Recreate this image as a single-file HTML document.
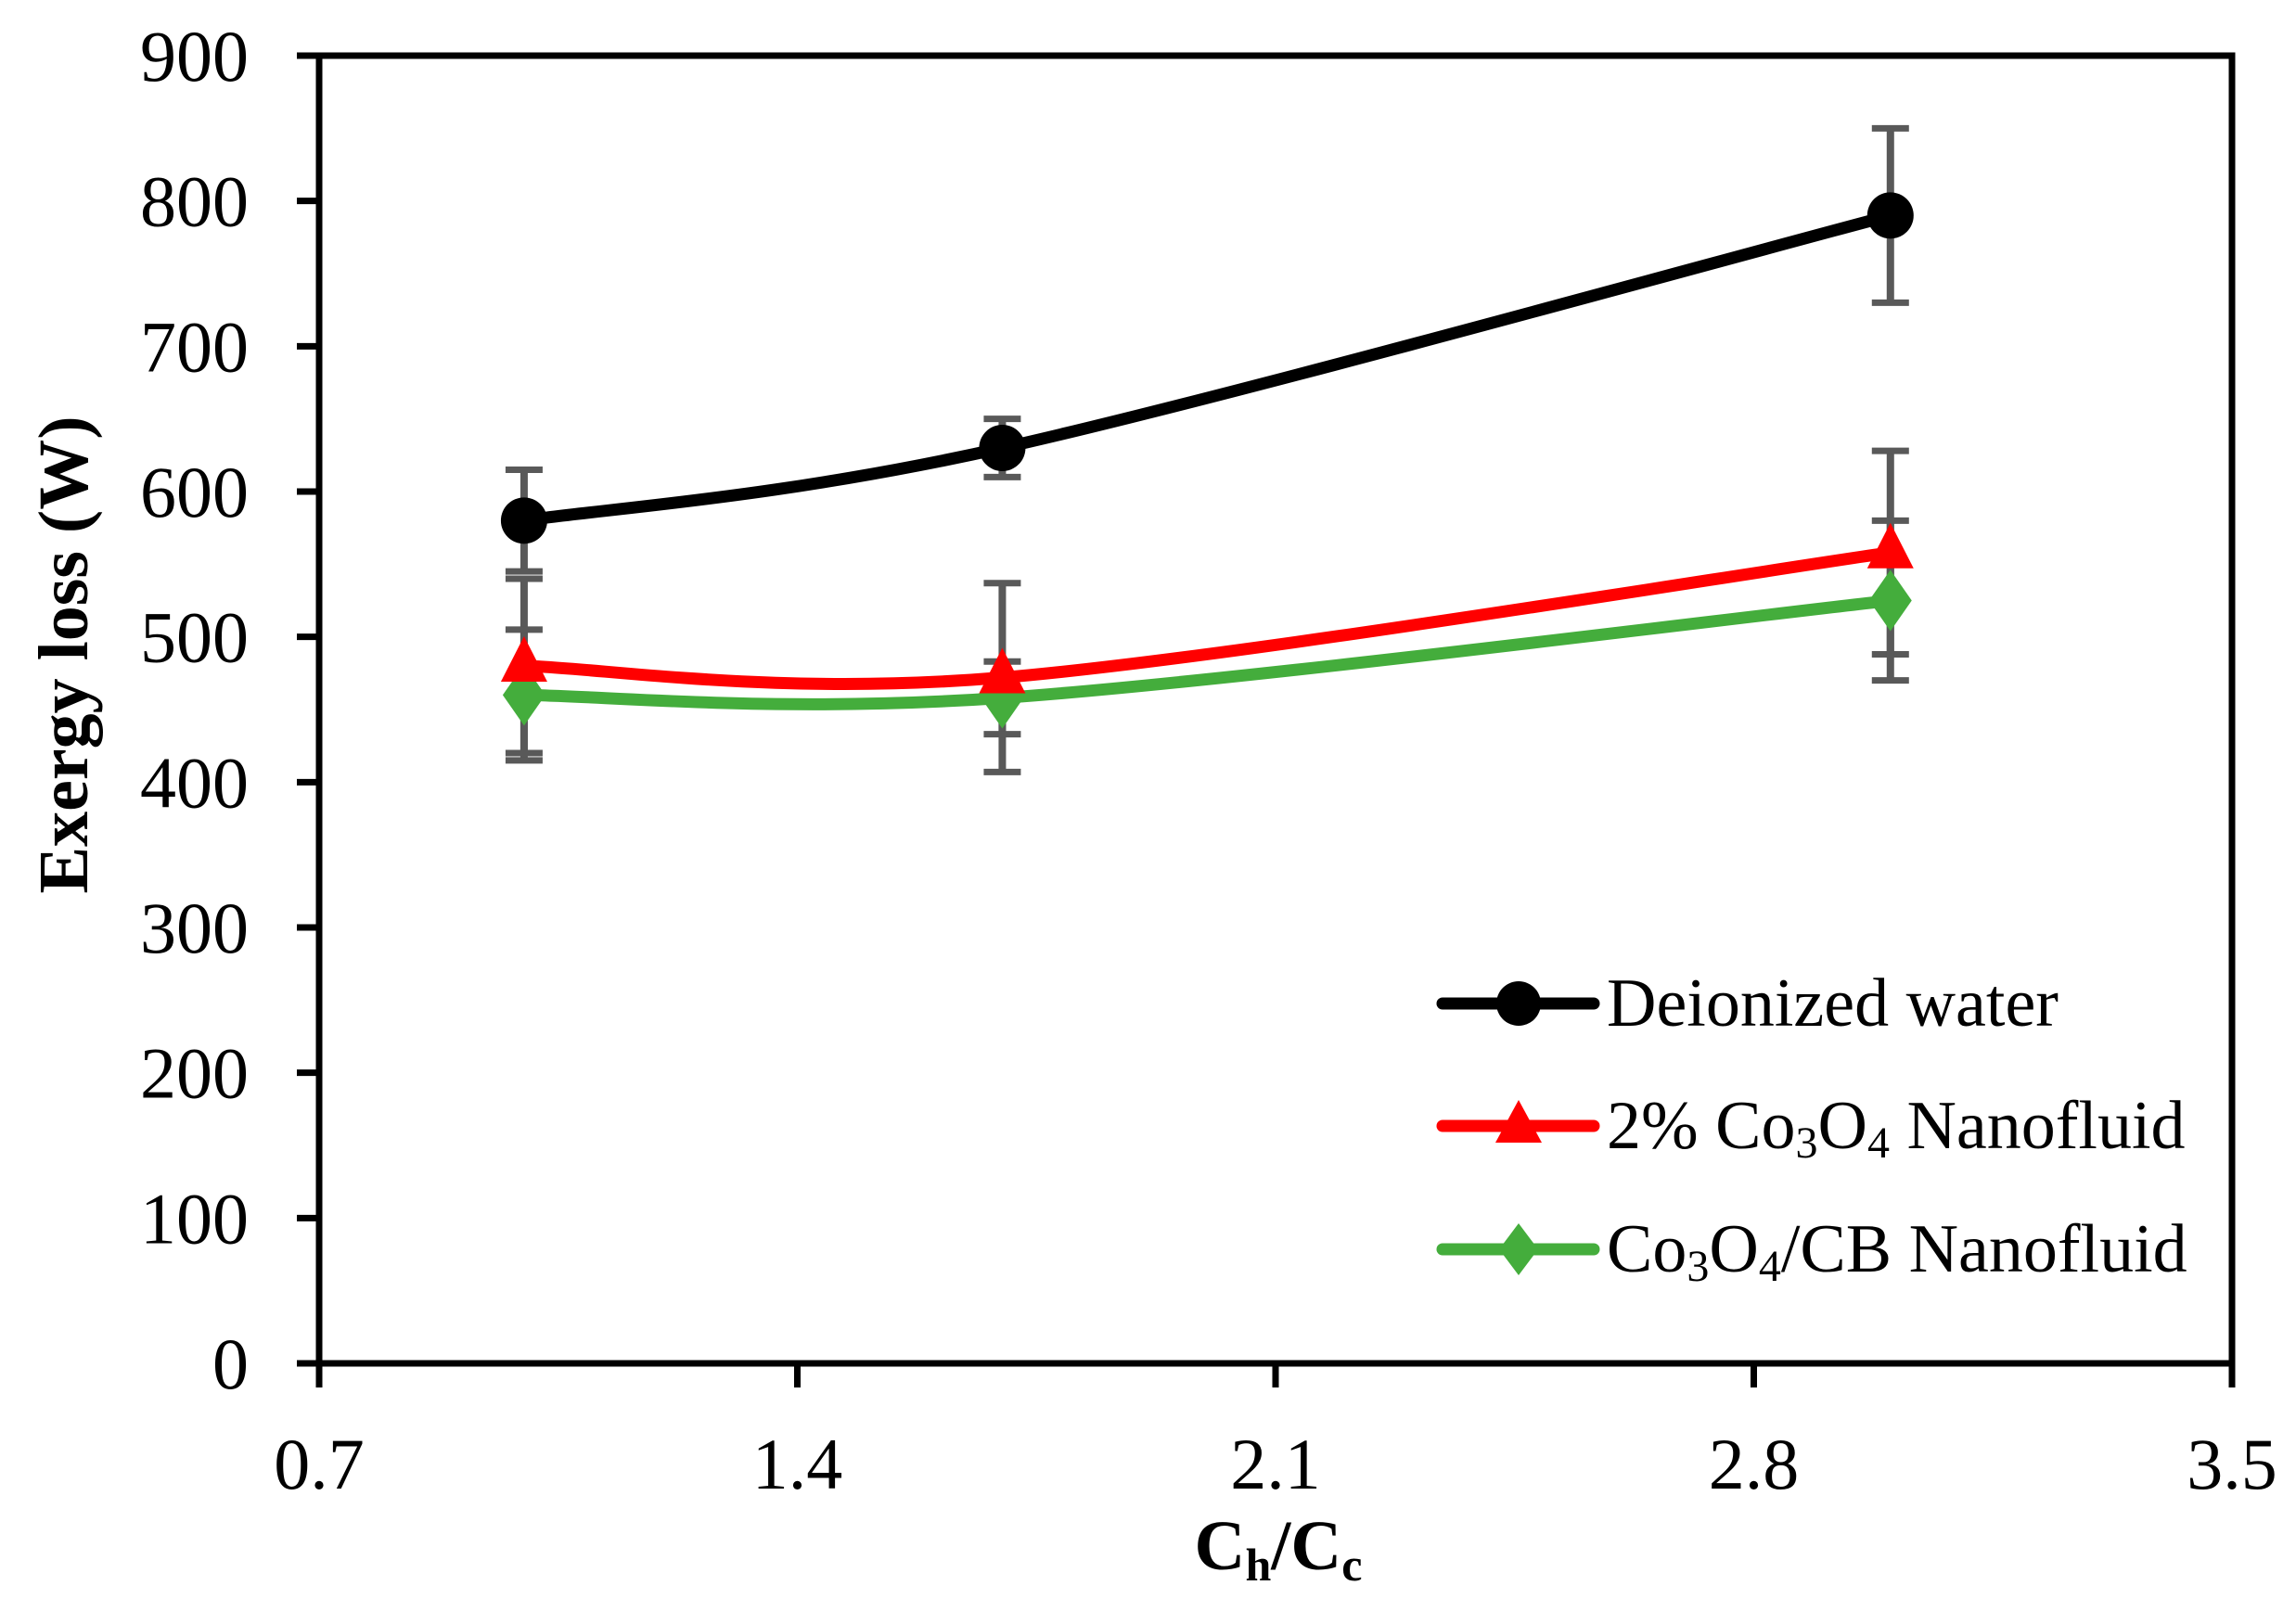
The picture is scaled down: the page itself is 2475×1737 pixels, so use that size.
<!DOCTYPE html>
<html><head><meta charset="utf-8"><style>
html,body{margin:0;padding:0;background:#fff;}
svg{display:block;font-family:"Liberation Serif",serif;}
</style></head><body>
<svg id="chart" width="2475" height="1737" viewBox="0 0 2475 1737" xmlns="http://www.w3.org/2000/svg">
<g id="axes"></g>
<g id="errs"></g>
<g id="series"></g>
<text x="0" y="0" transform="translate(94,706) rotate(-90)" text-anchor="middle" font-size="76" font-weight="bold">Exergy loss (W)</text>
<text x="1378" y="1692" text-anchor="middle" font-size="76" font-weight="bold">C<tspan font-size="50" dy="12">h</tspan><tspan dy="-12">/C</tspan><tspan font-size="50" dy="12">c</tspan></text>
<g font-size="74">
  <g>
    <line x1="1555" y1="1082" x2="1718" y2="1082" stroke="#000" stroke-width="13" stroke-linecap="round"/>
    <circle cx="1637" cy="1082" r="24" fill="#000"/>
    <text x="1732" y="1106">Deionized water</text>
  </g>
  <g>
    <line x1="1555" y1="1214" x2="1718" y2="1214" stroke="#ff0000" stroke-width="13" stroke-linecap="round"/>
    <polygon points="1637,1186 1662,1232 1612,1232" fill="#ff0000"/>
    <text x="1732" y="1238">2% Co<tspan font-size="48" dy="10">3</tspan><tspan dy="-10">O</tspan><tspan font-size="48" dy="10">4</tspan><tspan dy="-10"> Nanofluid</tspan></text>
  </g>
  <g>
    <line x1="1555" y1="1347" x2="1718" y2="1347" stroke="#44ad3c" stroke-width="13" stroke-linecap="round"/>
    <polygon points="1637,1319 1658,1347 1637,1375 1616,1347" fill="#44ad3c"/>
    <text x="1732" y="1371">Co<tspan font-size="48" dy="10">3</tspan><tspan dy="-10">O</tspan><tspan font-size="48" dy="10">4</tspan><tspan dy="-10">/CB Nanofluid</tspan></text>
  </g>
</g>
</svg>
<script>
const xValues = [1.0, 1.7, 3.0];
const waterValues = [580, 630, 790];
const waterErr = [35, 20, 60];
const co3o4Values = [480, 472, 558];
const co3o4Err = [60, 65, 70];
const hybridValues = [460, 458, 525];
const hybridErr = [45, 25, 55];
const xTicks = [0.7, 1.4, 2.1, 2.8, 3.5];
const yTicks = [0, 100, 200, 300, 400, 500, 600, 700, 800, 900];

const NS = "http://www.w3.org/2000/svg";
const X0 = 344, X1 = 2406, Y0 = 1470, Y1 = 60;
function sx(v){ return X0 + (v - 0.7) / (3.5 - 0.7) * (X1 - X0); }
function sy(v){ return Y0 - v / 900 * (Y0 - Y1); }
function mk(tag, attrs, parent){
  const e = document.createElementNS(NS, tag);
  for (const k in attrs) e.setAttribute(k, attrs[k]);
  parent.appendChild(e);
  return e;
}
const axes = document.getElementById('axes');
const frame = mk('rect', {x:X0, y:Y1, width:X1-X0, height:Y0-Y1, fill:'none', stroke:'#000', 'stroke-width':7}, axes);


yTicks.forEach(t => {
  const y = sy(t);
  const tk = mk('line', {x1:X0-24, y1:y, x2:X0, y2:y, stroke:'#000', 'stroke-width':7}, axes);
  
  
  const lb = mk('text', {x:268, y:y+27, 'text-anchor':'end', 'font-size':78}, axes);
  
  
  lb.textContent = t;
});
xTicks.forEach(t => {
  const x = sx(t);
  const tk = mk('line', {x1:x, y1:Y0, x2:x, y2:Y0+26, stroke:'#000', 'stroke-width':7}, axes);
  
  
  const lb = mk('text', {x:x, y:1605, 'text-anchor':'middle', 'font-size':78}, axes);
  
  
  lb.textContent = t.toFixed(1);
});

function smoothPath(xs, ys){
  const p = xs.map((x,i)=>[sx(x), sy(ys[i])]);
  let d = 'M' + p[0][0] + ',' + p[0][1];
  for (let i = 0; i < p.length - 1; i++){
    const a = p[i-1] || p[i], b = p[i], c = p[i+1], e = p[i+2] || p[i+1];
    const t = 1/6;
    const c1 = [b[0] + (c[0]-a[0])*t, b[1] + (c[1]-a[1])*t];
    const c2 = [c[0] - (e[0]-b[0])*t, c[1] - (e[1]-b[1])*t];
    d += ' C' + c1[0] + ',' + c1[1] + ' ' + c2[0] + ',' + c2[1] + ' ' + c[0] + ',' + c[1];
  }
  return d;
}
const errs = document.getElementById('errs');
const series = document.getElementById('series');
function drawErr(vals, err){
  xValues.forEach((x,i) => {
    const cx = sx(x), yt = sy(vals[i]+err[i]), yb = sy(vals[i]-err[i]);
    const g = mk('g', {stroke:'#595959', 'stroke-width':8}, errs);
    
    
    mk('line', {x1:cx, y1:yt, x2:cx, y2:yb}, g);
    mk('line', {x1:cx-20, y1:yt, x2:cx+20, y2:yt, 'stroke-width':7}, g);
    mk('line', {x1:cx-20, y1:yb, x2:cx+20, y2:yb, 'stroke-width':7}, g);
  });
}
drawErr(waterValues, waterErr);
drawErr(co3o4Values, co3o4Err);
drawErr(hybridValues, hybridErr);

function drawSeries(vals, color, marker, name){
  const g = mk('g', {}, series);
  
  
  mk('path', {d:smoothPath(xValues, vals), fill:'none', stroke:color, 'stroke-width':13, 'stroke-linecap':'round'}, g);
  xValues.forEach((x,i) => {
    const cx = sx(x), cy = sy(vals[i]);
    let m;
    if (marker === 'circle') m = mk('circle', {cx:cx, cy:cy, r:25, fill:color}, g);
    else if (marker === 'tri') m = mk('polygon', {points:`${cx},${cy-32} ${cx+25},${cy+17} ${cx-25},${cy+17}`, fill:color}, g);
    else m = mk('polygon', {points:`${cx},${cy-33} ${cx+23},${cy} ${cx},${cy+33} ${cx-23},${cy}`, fill:color}, g);
    
    
  });
}
drawSeries(hybridValues, '#44ad3c', 'diamond', 'co3o4-cb-series');
drawSeries(co3o4Values, '#ff0000', 'tri', 'co3o4-series');
drawSeries(waterValues, '#000000', 'circle', 'deionized-water-series');
</script>
</body></html>
